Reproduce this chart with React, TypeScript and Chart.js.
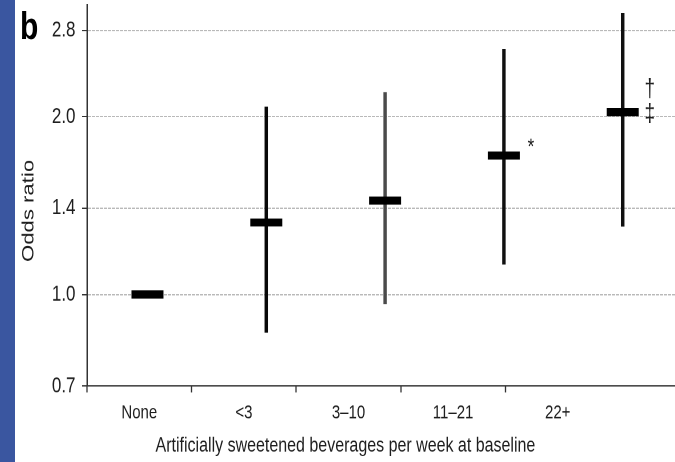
import React, { useEffect, useRef } from 'react';
import { Chart, registerables } from 'chart.js';

Chart.register(...registerables);

// ---------------- data ----------------
const categories = ['None', '<3', '3–10', '11–21', '22+'];
const oddsRatios = [1.0, 1.324, 1.442, 1.719, 2.036];
const ciLower: (number | null)[] = [null, 0.863, 0.965, 1.126, 1.305];
const ciUpper: (number | null)[] = [null, 2.077, 2.197, 2.6, 2.99];
const yTicks = [0.7, 1.0, 1.4, 2.0, 2.8];
const significanceMarks: string[][] = [[], [], [], ['*'], ['†', '‡']];
const panelLabel = 'b';
const yTitle = 'Odds ratio';
const xTitle = 'Artificially sweetened beverages per week at baseline';

// ---------------- styles / layout ----------------
const W = 675;
const SCREEN_H = 462;
const H = 355; // canvas drawn at this height and stretched to SCREEN_H (like the reference)
const SY = SCREEN_H / H;
const CHART_TOP = 5 / SY;
const CHART_BOTTOM = 386 / SY;
const CHART_LEFT = 87;
const FONT = "'Liberation Sans', Arial, Helvetica, sans-serif";
const TEXT = '#1e1e1e';
const AXIS = '#333333';
const GRID = '#a3a3a3';
const STRIPE = '#3a56a0';
const ciColors = ['#000000', '#080808', '#4a4a4a', '#101010', '#101010'];
const CAT_UNIT = 104.6; // px per category on the label axis
const X_LABEL_MAX = (W - CHART_LEFT) / CAT_UNIT;
const XD_MIN = 0.491;
const XD_MAX = 5.44;

const xTickValues: number[] = [];
for (let k = 0; k <= categories.length; k++) {
  xTickValues.push(k);
  if (k < categories.length) xTickValues.push(k + 0.5);
}

const zeroPadding = (s: any) => {
  s.paddingTop = 0;
  s.paddingBottom = 0;
  s.paddingLeft = 0;
  s.paddingRight = 0;
};

const decorPlugin = {
  id: 'decor',
  beforeDraw(chart: any) {
    const ctx = chart.ctx;
    ctx.save();
    ctx.fillStyle = STRIPE;
    ctx.fillRect(0, 0, 15, chart.height);
    ctx.restore();
  },
  afterDatasetsDraw(chart: any) {
    const ctx = chart.ctx;
    const xs = chart.scales.xd;
    const ys = chart.scales.y;
    ctx.save();
    ctx.fillStyle = TEXT;
    ctx.textAlign = 'center';
    ctx.textBaseline = 'middle';
    significanceMarks.forEach((marks, i) => {
      if (!marks.length) return;
      const px = xs.getPixelForValue(i + 1) + 27;
      const py = ys.getPixelForValue(oddsRatios[i]);
      if (marks.length === 1) {
        ctx.font = `17px ${FONT}`;
        ctx.fillText(marks[0], px, py - 6);
      } else {
        ctx.font = `19px ${FONT}`;
        marks.forEach((m, j) => {
          ctx.fillText(m, px, py - 17.2 + j * 19);
        });
      }
    });
    ctx.restore();
  },
  afterDraw(chart: any) {
    const ctx = chart.ctx;
    ctx.save();
    ctx.fillStyle = '#000';
    ctx.font = `bold 30px ${FONT}`;
    ctx.textAlign = 'left';
    ctx.textBaseline = 'alphabetic';
    ctx.fillText(panelLabel, 20, 30);
    ctx.restore();
  },
};

export default function App() {
  const ref = useRef<HTMLCanvasElement>(null);

  useEffect(() => {
    const canvas = ref.current;
    if (!canvas) return;

    const pointData = categories.map((c, i) => ({ x: i + 1, y: oddsRatios[i] }));
    const ciData = categories
      .map((c, i) => ({ x: i + 1, y: [ciLower[i], ciUpper[i]] }))
      .filter((d) => d.y[0] != null && d.y[1] != null);

    const chart = new Chart(canvas, {
      type: 'scatter',
      data: {
        datasets: [
          {
            type: 'scatter',
            label: 'Odds ratio',
            data: pointData,
            xAxisID: 'xd',
            yAxisID: 'y',
            pointStyle: 'line',
            pointRadius: 16,
            pointHoverRadius: 16,
            pointBorderWidth: 6.2,
            borderWidth: 6.2,
            pointBorderColor: '#000',
            pointBackgroundColor: '#000',
            borderColor: '#000',
            showLine: false,
            clip: false,
            order: 0,
          } as any,
          {
            type: 'bar',
            label: '95% CI',
            data: ciData as any,
            xAxisID: 'xd',
            yAxisID: 'y',
            barThickness: 2.8,
            borderWidth: 0,
            clip: false,
            backgroundColor: (ctx: any) => ciColors[(ctx.raw && ctx.raw.x ? ctx.raw.x : 1) - 1],
            order: 1,
          } as any,
        ],
      },
      options: {
        responsive: false,
        animation: false,
        devicePixelRatio: 2,
        events: [],
        layout: {
          autoPadding: false,
          padding: { top: CHART_TOP, left: 0, right: 0, bottom: 0 },
        },
        plugins: {
          legend: { display: false },
          tooltip: { enabled: false },
          title: { display: false },
        },
        scales: {
          xd: {
            type: 'linear',
            display: false,
            min: XD_MIN,
            max: XD_MAX,
            offset: false,
            afterFit: zeroPadding,
          },
          x: {
            type: 'linear',
            position: 'bottom',
            min: 0,
            max: X_LABEL_MAX,
            afterBuildTicks: (s: any) => {
              s.ticks = xTickValues.map((v) => ({ value: v }));
            },
            afterFit: (s: any) => {
              s.height = H - CHART_BOTTOM;
              zeroPadding(s);
            },
            ticks: {
              autoSkip: false,
              maxRotation: 0,
              minRotation: 0,
              padding: 7,
              color: TEXT,
              font: { family: FONT, size: 15 },
              callback: (v: any) => {
                const k = Number(v) - 0.5;
                return Number.isInteger(k) && categories[k] !== undefined ? categories[k] : '';
              },
            },
            grid: {
              drawOnChartArea: false,
              drawTicks: true,
              tickLength: 5,
              tickWidth: 1.3,
              tickColor: (ctx: any) => {
                const v = ctx.tick ? ctx.tick.value : -1;
                return Number.isInteger(v) && v < categories.length ? AXIS : 'rgba(0,0,0,0)';
              },
            },
            border: { display: true, color: AXIS, width: 1 },
            title: {
              display: true,
              text: xTitle + '\u00a0'.repeat(16),
              color: TEXT,
              font: { family: FONT, size: 16 },
              padding: { top: 0, bottom: 3 },
            },
          },
          y: {
            type: 'logarithmic',
            position: 'left',
            min: 0.7,
            max: 3.09,
            afterBuildTicks: (s: any) => {
              s.ticks = yTicks.map((v) => ({ value: v }));
            },
            afterFit: (s: any) => {
              s.width = CHART_LEFT;
              zeroPadding(s);
            },
            ticks: {
              autoSkip: false,
              padding: 6.5,
              color: TEXT,
              font: { family: FONT, size: 17 },
              callback: (v: any) => Number(v).toFixed(1),
            },
            grid: {
              color: (ctx: any) =>
                ctx.tick && ctx.tick.value === yTicks[0] ? 'rgba(0,0,0,0)' : GRID,
              lineWidth: 0.8,
              drawTicks: true,
              tickLength: 5,
              tickWidth: 1,
              tickColor: AXIS,
            },
            border: { display: true, color: AXIS, width: 1.5, dash: [3, 1] },
            title: {
              display: true,
              text: yTitle + '\u00a0'.repeat(5),
              color: TEXT,
              font: { family: FONT, size: 17 },
              padding: { top: 18.8, bottom: 0 },
            },
          },
        },
      } as any,
      plugins: [decorPlugin],
    });

    return () => {
      chart.destroy();
    };
  }, []);

  return (
    <div
      style={{
        position: 'fixed',
        left: 0,
        top: 0,
        width: W,
        height: SCREEN_H,
        background: '#ffffff',
        overflow: 'hidden',
      }}
    >
      <canvas
        ref={ref}
        width={W}
        height={H}
        style={{ display: 'block', width: `${W}px`, height: `${SCREEN_H}px` }}
      />
    </div>
  );
}
